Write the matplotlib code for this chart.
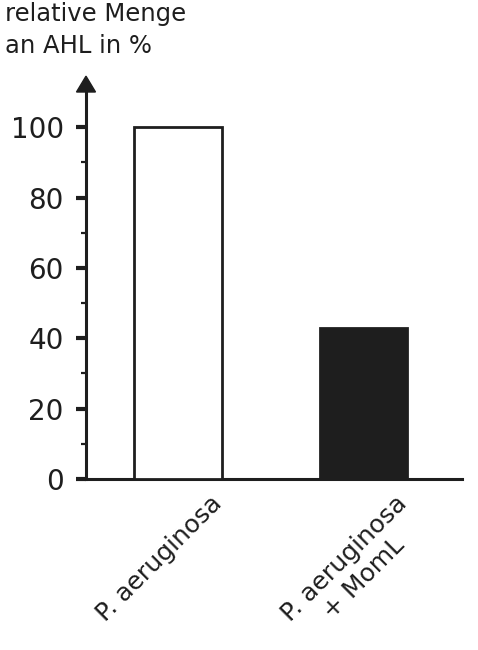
import numpy as np
import matplotlib as mpl
mpl.use('Agg')
import matplotlib.pyplot as plt
from matplotlib.patches import Polygon

# data
groups = ['P. aeruginosa', 'P. aeruginosa\n+ MomL']
values = [100, 43]
colors = ['white', '#1e1e1e']
yticks = [0, 20, 40, 60, 80, 100]
yminor = [10, 30, 50, 70, 90]

fig = plt.figure(figsize=(4.78, 6.5), dpi=100)
W, H = 478, 650
ax = fig.add_axes([86 / W, 1 - 479 / H, (462 - 86) / W, (479 - 92) / H])

x = np.arange(len(values))
bw = 0.474
ax.bar(x, values, width=bw, color=colors, edgecolor='#1e1e1e', linewidth=2.0, zorder=3)

ax.set_xlim(-0.496, 1.531)
ax.set_ylim(0, 110)

for s in ['top', 'right']:
    ax.spines[s].set_visible(False)
for s in ['left', 'bottom']:
    ax.spines[s].set_linewidth(2.2)
    ax.spines[s].set_color('#1e1e1e')

ax.set_xticks([])
ax.set_yticks(yticks)
ax.set_yticks(yminor, minor=True)
ax.tick_params(axis='y', which='major', length=7.5, width=3.0, pad=8.5,
               labelsize=20, color='#1e1e1e', labelcolor='#1e1e1e')
ax.tick_params(axis='y', which='minor', length=3.8, width=1.6, color='#1e1e1e')

# arrow head on top of the y axis
hw = 9.5 / (462 - 86)
ax.add_patch(Polygon([(-hw, 110), (hw, 110), (0, 114.5)], closed=True,
                     transform=ax.get_yaxis_transform(), color='#1e1e1e',
                     clip_on=False, zorder=5))

# rotated category labels
for xi, lab in zip(x, groups):
    ax.annotate(lab, xy=(xi + bw / 2, 0), xytext=(-9, -9), textcoords='offset points',
                rotation=45, ha='right', va='top', rotation_mode='anchor',
                multialignment='center', fontsize=18, color='#1e1e1e',
                annotation_clip=False)

fig.text(5 / W, 1 - 2 / H, 'relative Menge\nan AHL in %', ha='left', va='top',
         fontsize=17.5, color='#1e1e1e', linespacing=1.4)

fig.savefig('out.png', dpi=100, facecolor='white')
